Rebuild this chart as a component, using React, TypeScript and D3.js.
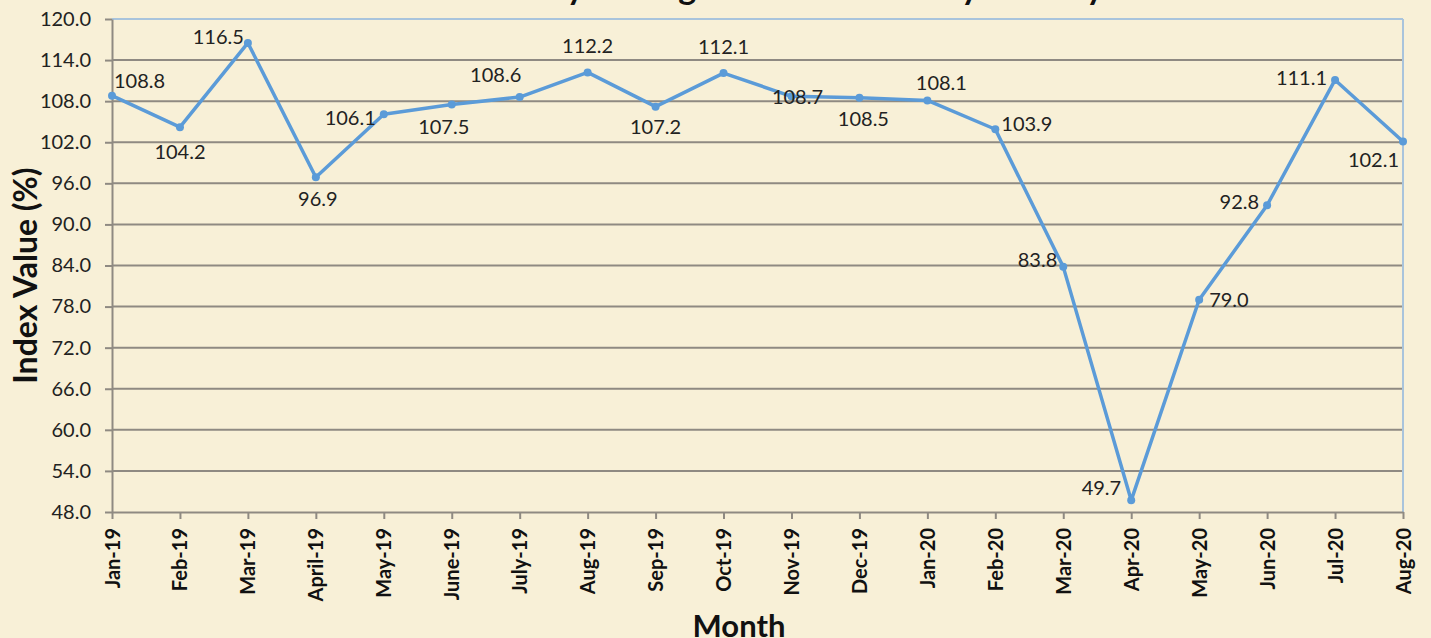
import React, { useEffect, useRef } from 'react';
import * as d3 from 'd3';

const months = ['Jan-19', 'Feb-19', 'Mar-19', 'April-19', 'May-19', 'June-19', 'July-19', 'Aug-19', 'Sep-19', 'Oct-19',
  'Nov-19', 'Dec-19', 'Jan-20', 'Feb-20', 'Mar-20', 'Apr-20', 'May-20', 'Jun-20', 'Jul-20', 'Aug-20'];
const indexValues = [108.8, 104.2, 116.5, 96.9, 106.1, 107.5, 108.6, 112.2, 107.2, 112.1,
  108.7, 108.5, 108.1, 103.9, 83.8, 49.7, 79.0, 92.8, 111.1, 102.1];
const yTicks = [48, 54, 60, 66, 72, 78, 84, 90, 96, 102, 108, 114, 120];

// where each data label sits relative to its point: [dx, dy, anchor]
const labelPlacement: [number, number, string][] = [
  [2, -15, 'start'], [0, 25, 'middle'], [-4, -6, 'end'], [2, 22, 'middle'], [-8, 4, 'end'],
  [-8, 22, 'middle'], [-24, -22, 'middle'], [0, -26, 'middle'], [0, 20, 'middle'], [0, -26, 'middle'],
  [6, 1, 'middle'], [4, 21, 'middle'], [14, -17, 'middle'], [6, -5, 'start'], [-6, -7, 'end'],
  [-10, -12, 'end'], [10, 0, 'start'], [-8, -3, 'end'], [-8, -2, 'end'], [-4, 18, 'end'],
];

const W = 1431;
const H = 638;
const margin = { top: 19, right: 28, bottom: 126, left: 112 };

export default function App() {
  const ref = useRef<SVGSVGElement>(null);

  useEffect(() => {
    const svg = d3.select(ref.current);
    svg.selectAll('*').remove();

    const width = W - margin.left - margin.right;
    const height = H - margin.top - margin.bottom;
    const font = 'Lato, "Open Sans", sans-serif';

    svg.append('rect').attr('width', W).attr('height', H).attr('fill', '#f8f0d7');

    // title, mostly cropped off the top
    svg.append('text')
      .attr('x', 780).attr('y', -1)
      .attr('text-anchor', 'middle')
      .attr('font-family', font).attr('font-weight', 'bold').attr('font-size', 34)
      .attr('fill', '#111')
      .text('Monthly Average Index of Industry Activity');

    const g = svg.append('g').attr('transform', `translate(${margin.left},${margin.top})`);

    const x = d3.scalePoint<string>().domain(months).range([0, width]);
    const y = d3.scaleLinear().domain([48, 120]).range([height, 0]);

    // grid
    g.selectAll('line.grid')
      .data(yTicks.slice(1, -1))
      .join('line')
      .attr('class', 'grid')
      .attr('x1', 0).attr('x2', width)
      .attr('y1', d => y(d)).attr('y2', d => y(d))
      .attr('stroke', '#8f8a82').attr('stroke-width', 2);

    // border top/right
    g.append('line').attr('x1', 0).attr('x2', width).attr('y1', 0).attr('y2', 0)
      .attr('stroke', '#a9c4dc').attr('stroke-width', 2);
    g.append('line').attr('x1', width).attr('x2', width).attr('y1', 0).attr('y2', height)
      .attr('stroke', '#a9c4dc').attr('stroke-width', 2);

    // y axis
    const yAxis = g.append('g')
      .call(d3.axisLeft(y).tickValues(yTicks).tickSize(7).tickSizeOuter(0).tickFormat(d3.format('.1f')));
    yAxis.select('.domain').attr('stroke', '#8f8a82').attr('stroke-width', 2);
    yAxis.selectAll('.tick line').attr('stroke', '#8f8a82').attr('stroke-width', 2);
    yAxis.selectAll('.tick text')
      .attr('x', -21)
      .attr('font-family', font).attr('font-size', 20).attr('fill', '#222');

    // x axis
    const xAxis = g.append('g')
      .attr('transform', `translate(0,${height})`)
      .call(d3.axisBottom(x).tickSize(7).tickSizeOuter(0));
    xAxis.select('.domain').attr('stroke', '#8f8a82').attr('stroke-width', 2);
    xAxis.selectAll('.tick line').attr('stroke', '#8f8a82').attr('stroke-width', 2);
    xAxis.selectAll('.tick text')
      .attr('transform', 'rotate(-90)')
      .attr('text-anchor', 'end')
      .attr('x', -16).attr('y', 0).attr('dy', '0.35em')
      .attr('font-family', font).attr('font-weight', 'bold').attr('font-size', 20).attr('fill', '#111');

    // axis titles
    svg.append('text')
      .attr('transform', `translate(37,${margin.top + height / 2 + 10}) rotate(-90)`)
      .attr('text-anchor', 'middle')
      .attr('font-family', font).attr('font-weight', 'bold').attr('font-size', 32).attr('fill', '#111')
      .text('Index Value (%)');
    svg.append('text')
      .attr('x', 739).attr('y', 637)
      .attr('text-anchor', 'middle')
      .attr('font-family', font).attr('font-weight', 'bold').attr('font-size', 31).attr('fill', '#111')
      .text('Month');

    const line = d3.line<number>()
      .x((d, i) => x(months[i]) as number)
      .y(d => y(d));

    g.append('path')
      .datum(indexValues)
      .attr('d', line)
      .attr('fill', 'none')
      .attr('stroke', '#5b9bd8')
      .attr('stroke-width', 3.5)
      .attr('stroke-linejoin', 'round');

    g.selectAll('circle')
      .data(indexValues)
      .join('circle')
      .attr('cx', (d, i) => x(months[i]) as number)
      .attr('cy', d => y(d))
      .attr('r', 4)
      .attr('fill', '#5b9bd8');

    g.selectAll('text.label')
      .data(indexValues)
      .join('text')
      .attr('class', 'label')
      .attr('x', (d, i) => (x(months[i]) as number) + labelPlacement[i][0])
      .attr('y', (d, i) => y(d) + labelPlacement[i][1])
      .attr('dy', '0.35em')
      .attr('text-anchor', (d, i) => labelPlacement[i][2])
      .attr('font-family', font).attr('font-size', 20).attr('fill', '#222')
      .text(d => d.toFixed(1));
  }, []);

  return (
    <svg ref={ref} width={W} height={H} style={{ position: 'fixed', top: 0, left: 0 }} />
  );
}
